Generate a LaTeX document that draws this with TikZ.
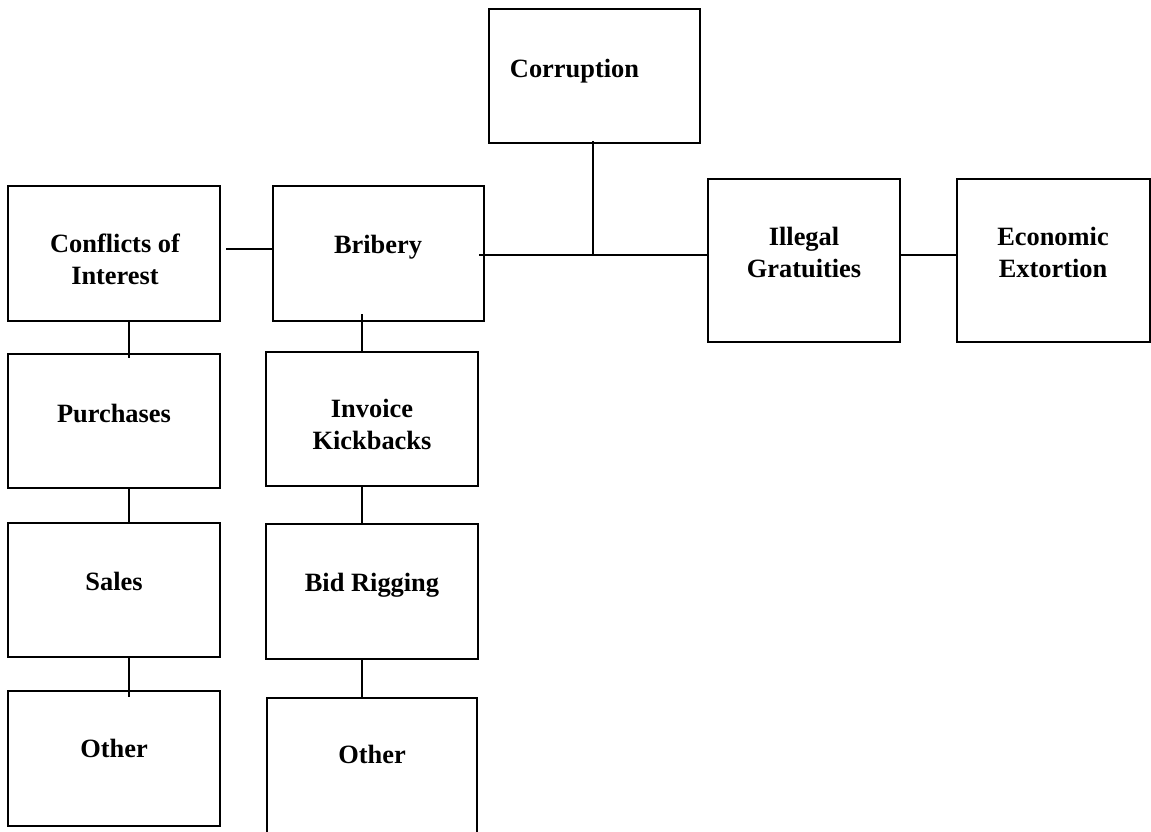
\documentclass[tikz,border=0pt]{standalone}
\usepackage{fontspec}
\setmainfont{Liberation Serif}
\begin{document}
\begin{tikzpicture}[x=1pt,y=-1pt,
  box/.style 2 args={draw,line width=2.2pt,inner sep=0pt,minimum width=#1pt,minimum height=#2pt},
  lbl/.style={font=\fontsize{26.4}{31.5}\selectfont\bfseries,align=center,inner sep=0pt,anchor=base},
  link/.style={line width=1.9pt}]
\useasboundingbox (0,0) rectangle (1151,831);
\clip (0,0) rectangle (1151,831);
% boxes
\node[box={211}{134}] (corr) at (594.5,76) {};
\node[box={212}{135}] (conf) at (114,253.5) {};
\node[box={211}{135}] (brib) at (378.5,253.5) {};
\node[box={192}{163}] (ill) at (804,260.5) {};
\node[box={193}{163}] (eco) at (1053.5,260.5) {};
\node[box={212}{134}] (purch) at (114,421) {};
\node[box={212}{134}] (inv) at (372,419) {};
\node[box={212}{134}] (sales) at (114,590) {};
\node[box={212}{135}] (bid) at (372,591.5) {};
\node[box={212}{135}] (oth1) at (114,758.5) {};
\node[box={210}{150}] (oth2) at (372,773) {};
% labels (base anchor = baseline of the last line)
\node[lbl] (corrT) at (574.5,77) {Corruption};
\node[lbl] (confT) at (115,284) {Conflicts of\\Interest};
\node[lbl] (bribT) at (378,253) {Bribery};
\node[lbl] (illT) at (804,277) {Illegal\\Gratuities};
\node[lbl] (ecoT) at (1053,277) {Economic\\Extortion};
\node[lbl] (purchT) at (114,422) {Purchases};
\node[lbl] (invT) at (372,449) {Invoice\\Kickbacks};
\node[lbl] (salesT) at (114,590) {Sales};
\node[lbl] (bidT) at (372,591) {Bid Rigging};
\node[lbl] (oth1T) at (114,757) {Other};
\node[lbl] (oth2T) at (372,763) {Other};
% connectors
\coordinate (join) at (593,255);
\draw[link] ([shift={(-1.5,-3)}]corr.south) -- (join);
\draw[link] ([shift={(-6,1.5)}]brib.east) -- ([shift={(0,-5.5)}]ill.west);
\draw[link] ([shift={(5,-4.5)}]conf.east) -- ([shift={(0,-4.5)}]brib.west);
\draw[link] ([shift={(0,-5.5)}]ill.east) -- ([shift={(0,-5.5)}]eco.west);
\draw[link] ([xshift=15pt]conf.south) -- ([shift={(15,5)}]purch.north);
\draw[link] ([shift={(15,-2)}]purch.south) -- ([xshift=15pt]sales.north);
\draw[link] ([xshift=15pt]sales.south) -- ([shift={(15,7)}]oth1.north);
\draw[link] ([shift={(-16.5,-8)}]brib.south) -- ([xshift=-10pt]inv.north);
\draw[link] ([xshift=-10pt]inv.south) -- ([xshift=-10pt]bid.north);
\draw[link] ([xshift=-10pt]bid.south) -- ([xshift=-10pt]oth2.north);
\end{tikzpicture}
\end{document}
